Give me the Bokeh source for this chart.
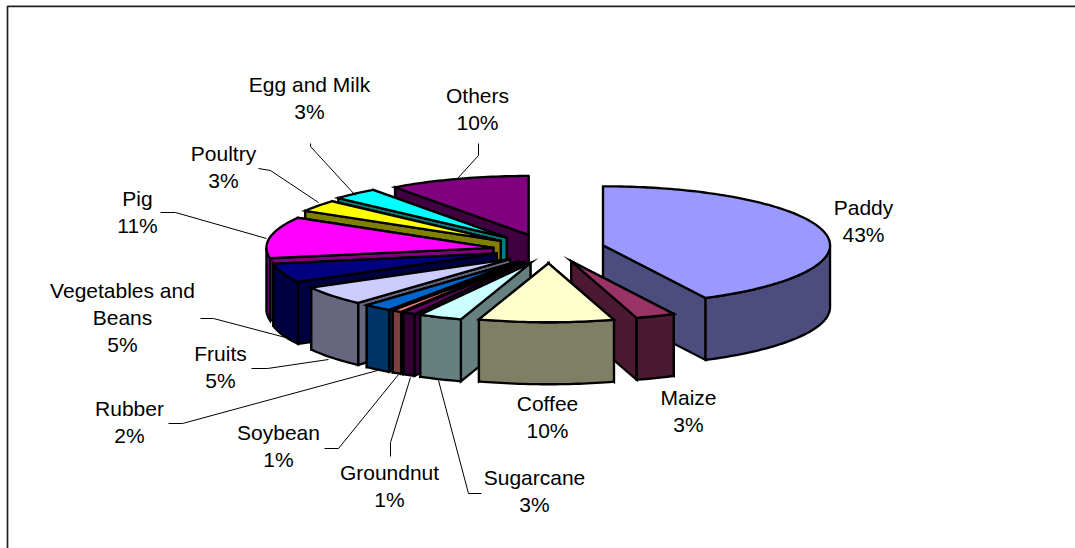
import math
from bokeh.plotting import figure
from bokeh.embed import file_html
from bokeh.resources import INLINE
from bokeh.core.properties import value

# ---- data ----
categories = ["Paddy", "Maize", "Coffee", "Sugarcane", "Groundnut", "Soybean", "Rubber",
              "Fruits", "Vegetables and\nBeans", "Pig", "Poultry", "Egg and Milk", "Others"]
shares = [42.5, 2.8, 9.6, 3.1, 0.9, 0.7, 2.0, 5.3, 5.2, 11.3, 3.2, 3.3, 10.0]
labels = ["43%", "3%", "10%", "3%", "1%", "1%", "2%", "5%", "5%", "11%", "3%", "3%", "10%"]
colors = ["#9999FF", "#993366", "#FFFFCC", "#CCFFFF", "#660066", "#FF8080", "#0066CC",
          "#CCCCFF", "#000080", "#FF00FF", "#FFFF00", "#00FFFF", "#800080"]

# ---- layout (page pixels) ----
W, H = 1075, 548
CX, CY = 551, 250      # pie centre
RX, RY = 227, 59       # ellipse radii
DEPTH = 62             # height of the pie
explode = [53, 53, 53, 53, 53, 53, 53, 53, 56, 59, 63, 67, 71]  # explosion distance per slice
nudge_x = [0, 0, -2.5, 0, 0, 0, 0, 0, -2, 0, 0, 0, -1]           # perspective correction
nudge_y = [-2, -2, -1, 0, 0, 0, 0, 0, -2, 0, 0, 0, 2]
label_xy = [(863, 207), (688, 397), (547, 403), (534, 477), (389, 472), (278, 432), (129, 408),
            (220, 353), (122, 290), (137, 198), (223, 153), (309, 84), (477, 95)]
LINE_H = 27
leaders = [
    [(481, 493), (468, 493), (438, 380)],
    [(390, 456), (390, 442), (410, 377)],
    [(324, 448), (338, 448), (398, 374)],
    [(168, 423), (182, 423), (377, 370)],
    [(251, 368), (267, 368), (328, 359)],
    [(200, 318), (213, 318), (285, 337)],
    [(160, 212), (175, 212), (266, 238)],
    [(258, 168), (270, 170), (318, 202)],
    [(310, 143), (310, 146), (355, 195)],
    [(478, 143), (478, 155), (457, 178)],
]


def darker(c):
    return "#%02X%02X%02X" % tuple(int(c[i:i + 2], 16) // 2 for i in (1, 3, 5))


p = figure(width=W, height=H, x_range=(0, W), y_range=(H, 0), output_backend="svg",
           toolbar_location=None, min_border=0, margin=(0, 0, 0, 0),
           background_fill_color="white", border_fill_color="white", outline_line_color=None)
p.axis.visible = False
p.grid.visible = False

# chart frame (top and left edges are what the crop shows)
p.line([7, 7, W], [H, 5.8, 5.8], line_color="#202020", line_width=1.7)


def rim(ax, ay, th):
    return ax + RX * math.sin(th), ay - RY * math.cos(th)


slices = []
cum = 0.0
total = sum(shares)
for s, c, e, nx, ny in zip(shares, colors, explode, nudge_x, nudge_y):
    a0 = cum / total * 2 * math.pi
    cum += s
    a1 = cum / total * 2 * math.pi
    slices.append((a0, a1, c, e, nx, ny))

# painter's order: back slices first
slices.sort(key=lambda t: -math.cos((t[0] + t[1]) / 2))

STROKE = dict(line_color="black", line_width=2.3, line_join="miter")
for a0, a1, c, e, nx, ny in slices:
    mid = (a0 + a1) / 2
    ax = CX + nx + e * math.sin(mid)
    ay = CY + ny - e * RY / RX * math.cos(mid)
    side = darker(c)
    # two cut faces
    for th in sorted((a0, a1), key=lambda t: -math.cos(t)):
        x, y = rim(ax, ay, th)
        p.patch([ax, x, x, ax], [ay, y, y + DEPTH, ay + DEPTH], fill_color=side, **STROKE)
    # outer wall (front-facing part only)
    lo, hi = max(a0, math.pi / 2), min(a1, 3 * math.pi / 2)
    if hi > lo:
        n = max(2, int((hi - lo) / 0.02))
        ths = [lo + (hi - lo) * i / n for i in range(n + 1)]
        pts = [rim(ax, ay, t) for t in ths]
        xs = [q[0] for q in pts] + [q[0] for q in reversed(pts)]
        ys = [q[1] for q in pts] + [q[1] + DEPTH for q in reversed(pts)]
        p.patch(xs, ys, fill_color=side, **STROKE)
    # top
    n = max(2, int((a1 - a0) / 0.02))
    pts = [rim(ax, ay, a0 + (a1 - a0) * i / n) for i in range(n + 1)]
    p.patch([ax] + [q[0] for q in pts], [ay] + [q[1] for q in pts], fill_color=c, **STROKE)

# leader lines
for pts in leaders:
    p.line([q[0] for q in pts], [q[1] for q in pts], line_color="black", line_width=1)

# labels
tx, ty, tt = [], [], []
for name, lab, (x, y) in zip(categories, labels, label_xy):
    lines = name.split("\n") + [lab]
    for i, t in enumerate(lines):
        tx.append(x)
        ty.append(y + i * LINE_H)
        tt.append(t)
p.text(tx, ty, text=tt, text_font=value("Liberation Sans"), text_font_size="21px",
       text_color="black", text_align="center", text_baseline="middle")

open("out.html", "w").write(file_html(p, INLINE))
